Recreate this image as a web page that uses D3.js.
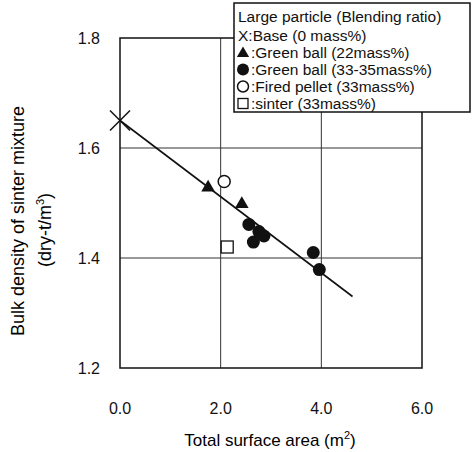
<!DOCTYPE html>
<meta charset="utf-8">
<head>
<script src="https://cdn.jsdelivr.net/npm/d3@7"></script>
</head>
<style>
  body { margin: 0; background: #fff; font-family: "Liberation Sans", Arial, sans-serif; }
  .tick-label { font-size: 16px; fill: #111; }
  .legend text { font-size: 15.5px; fill: #111; }
</style>
<body></body>
<script>
var width = 473, height = 452;

// data
var base = [[0.0, 1.65]];
var greenBall22 = [[1.75, 1.528], [2.42, 1.498]];
var greenBall33 = [[2.56, 1.461], [2.76, 1.448], [2.86, 1.44], [2.65, 1.429], [3.84, 1.41], [3.96, 1.379]];
var firedPellet = [[2.07, 1.539]];
var sinter = [[2.13, 1.42]];
var fitLine = [[0.0, 1.65], [4.62, 1.33]];

var xTicks = [0, 2, 4, 6];
var yTicks = [1.2, 1.4, 1.6, 1.8];
var legendTitle = "Large particle (Blending ratio)";
var legendItems = [
  {sym: "x", label: ":Base (0 mass%)"},
  {sym: "tri", label: ":Green ball (22mass%)"},
  {sym: "dot", label: ":Green ball (33-35mass%)"},
  {sym: "ring", label: ":Fired pellet (33mass%)"},
  {sym: "sq", label: ":sinter (33mass%)"}
];

var x = d3.scaleLinear().domain([0, 6]).range([120, 422]);
var y = d3.scaleLinear().domain([1.2, 1.8]).range([368, 38]);

var svg = d3.select("body").append("svg")
    .attr("width", width)
    .attr("height", height);

// grid lines
svg.selectAll(".vgrid")
  .data([2, 4])
  .enter().append("line")
    .attr("x1", function(d) { return x(d); })
    .attr("x2", function(d) { return x(d); })
    .attr("y1", y(1.8)).attr("y2", y(1.2))
    .attr("stroke", "#333").attr("stroke-width", 1);

svg.selectAll(".hgrid")
  .data([1.4, 1.6])
  .enter().append("line")
    .attr("x1", x(0)).attr("x2", x(6))
    .attr("y1", function(d) { return y(d); })
    .attr("y2", function(d) { return y(d); })
    .attr("stroke", "#333").attr("stroke-width", 1);

// frame
svg.append("rect")
  .attr("x", x(0)).attr("y", y(1.8))
  .attr("width", x(6) - x(0)).attr("height", y(1.2) - y(1.8))
  .attr("fill", "none").attr("stroke", "#111").attr("stroke-width", 1.5);

// tick labels
svg.selectAll(".ylab")
  .data(yTicks)
  .enter().append("text")
    .attr("class", "tick-label")
    .attr("x", 100)
    .attr("y", function(d) { return y(d) + 6; })
    .attr("text-anchor", "end")
    .text(function(d) { return d.toFixed(1); });

svg.selectAll(".xlab")
  .data(xTicks)
  .enter().append("text")
    .attr("class", "tick-label")
    .attr("x", function(d) { return x(d); })
    .attr("y", 414)
    .attr("text-anchor", "middle")
    .text(function(d) { return d.toFixed(1); });

// axis titles
var xt = svg.append("text")
  .attr("x", 270).attr("y", 446)
  .attr("text-anchor", "middle")
  .style("font-size", "17px");
xt.append("tspan").text("Total surface area (m");
xt.append("tspan").attr("dy", -7).style("font-size", "11px").text("2");
xt.append("tspan").attr("dy", 7).text(")");

svg.append("text")
  .attr("transform", "translate(24,221) rotate(-90)")
  .attr("text-anchor", "middle")
  .style("font-size", "18px")
  .text("Bulk density of sinter mixture");

var yt = svg.append("text")
  .attr("transform", "translate(51,230) rotate(-90)")
  .attr("text-anchor", "middle")
  .style("font-size", "18px");
yt.append("tspan").text("(dry-t/m");
yt.append("tspan").attr("dy", -7).style("font-size", "11px").text("3");
yt.append("tspan").attr("dy", 7).text(")");

// regression line
svg.append("path")
  .datum(fitLine)
  .attr("d", d3.line().x(function(d) { return x(d[0]); }).y(function(d) { return y(d[1]); }))
  .attr("stroke", "#111").attr("stroke-width", 1.6).attr("fill", "none");

// markers
function drawMarker(g, sym, cx, cy) {
  if (sym == "x") {
    var s = 10;
    g.append("path")
      .attr("d", "M" + (cx - s) + "," + (cy - s) + "L" + (cx + s) + "," + (cy + s) +
                 "M" + (cx - s) + "," + (cy + s) + "L" + (cx + s) + "," + (cy - s))
      .attr("stroke", "#111").attr("stroke-width", 1.5);
  } else if (sym == "tri") {
    g.append("path")
      .attr("transform", "translate(" + cx + "," + cy + ")")
      .attr("d", d3.symbol().type(d3.symbolTriangle).size(80))
      .attr("fill", "#111");
  } else if (sym == "dot") {
    g.append("circle").attr("cx", cx).attr("cy", cy).attr("r", 6.5).attr("fill", "#111");
  } else if (sym == "ring") {
    g.append("circle").attr("cx", cx).attr("cy", cy).attr("r", 6)
      .attr("fill", "#fff").attr("stroke", "#111").attr("stroke-width", 1.5);
  } else if (sym == "sq") {
    g.append("rect").attr("x", cx - 6).attr("y", cy - 6).attr("width", 12).attr("height", 12)
      .attr("fill", "#fff").attr("stroke", "#111").attr("stroke-width", 1.3);
  }
}

var marks = svg.append("g");
[[base, "x"], [greenBall22, "tri"], [greenBall33, "dot"], [firedPellet, "ring"], [sinter, "sq"]]
  .forEach(function(s) {
    s[0].forEach(function(d) { drawMarker(marks, s[1], x(d[0]), y(d[1])); });
  });

// legend
var legend = svg.append("g").attr("class", "legend");
legend.append("rect")
  .attr("x", 234).attr("y", 3).attr("width", 236).attr("height", 109)
  .attr("fill", "#fff").attr("stroke", "#111").attr("stroke-width", 1.5);
legend.append("text").attr("x", 238).attr("y", 22).text(legendTitle);

legendItems.forEach(function(d, i) {
  var ly = 35.5 + i * 17;
  if (d.sym == "x") {
    legend.append("text").attr("x", 238).attr("y", ly + 5.5).text("X" + d.label);
  } else {
    var gi = legend.append("g");
    if (d.sym == "tri") {
      gi.append("path").attr("transform", "translate(243," + (ly + 1) + ")")
        .attr("d", d3.symbol().type(d3.symbolTriangle).size(65)).attr("fill", "#111");
    } else if (d.sym == "dot") {
      gi.append("circle").attr("cx", 243).attr("cy", ly).attr("r", 6).attr("fill", "#111");
    } else if (d.sym == "ring") {
      gi.append("circle").attr("cx", 243).attr("cy", ly).attr("r", 5.5)
        .attr("fill", "none").attr("stroke", "#111").attr("stroke-width", 1.5);
    } else {
      gi.append("rect").attr("x", 238).attr("y", ly - 5).attr("width", 10).attr("height", 10)
        .attr("fill", "none").attr("stroke", "#111").attr("stroke-width", 1.3);
    }
    legend.append("text").attr("x", 251).attr("y", ly + 5.5).text(d.label);
  }
});
</script>
</html>
